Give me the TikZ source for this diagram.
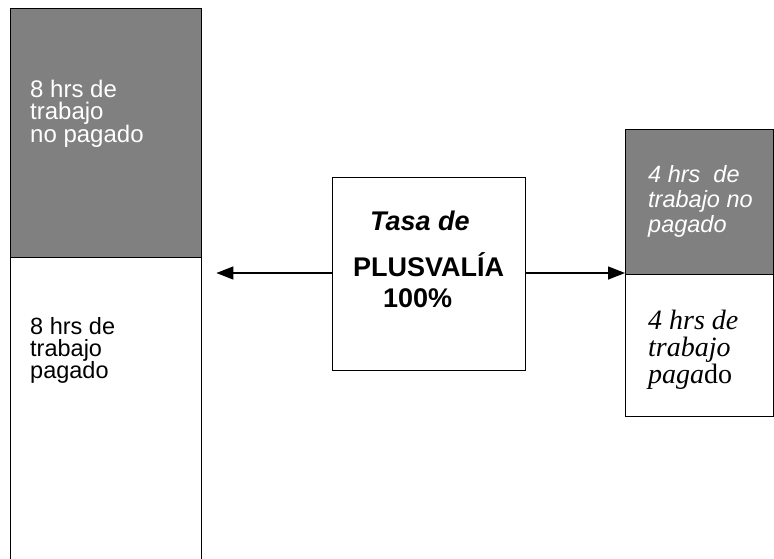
\documentclass[tikz,border=0pt]{standalone}
\usepackage{fontspec}
\setmainfont{Liberation Sans}
\newfontfamily\timesfont{Liberation Serif}
\usetikzlibrary{arrows.meta,calc}
\definecolor{boxgray}{RGB}{128,128,128}
\begin{document}
\begin{tikzpicture}[x=1pt,y=-1pt,
  box/.style={draw,line width=1.4pt,anchor=north west,inner sep=0pt},
  txt/.style={anchor=base west,align=left,inner sep=0pt},
  arr/.style={line width=1.4pt,-{Triangle[length=17pt,width=13pt]}}]

    \useasboundingbox (0,0) rectangle (774,558);

    \node[box,fill=boxgray,minimum width=191pt,minimum height=249pt] (ltop) at (10,8) {};
    \node[box,minimum width=191pt,minimum height=320pt] (lbot) at (10,257) {};
    \node[box,minimum width=193pt,minimum height=193pt] (tasa) at (332,177) {};
    \node[box,fill=boxgray,minimum width=148pt,minimum height=145pt] (rtop) at (625,129) {};
    \node[box,minimum width=148pt,minimum height=142pt] (rbot) at (625,274) {};

    % base anchor = last line
    \node[txt,text=white,font=\fontsize{24}{22.5}\selectfont] (ltxt1) at (30,142) {8 hrs de\\trabajo\\no pagado};
    \node[txt,font=\fontsize{23.5}{22}\selectfont] (ltxt2) at (30,378) {8 hrs de\\trabajo\\pagado};
    \node[txt,font=\fontsize{27}{27}\selectfont\bfseries\itshape] (t1) at (370,230) {Tasa de};
    \node[txt,font=\fontsize{27}{27}\selectfont\bfseries] (t2) at (353,276) {PLUSVALÍA};
    \node[txt,font=\fontsize{27}{27}\selectfont\bfseries] (t3) at (383,307) {100\%};
    \node[txt,text=white,font=\fontsize{23.5}{25}\selectfont\itshape] (rtxt1) at (648,232) {4 hrs\ \ de\\trabajo no\\pagado};
    \node[txt,font=\fontsize{28}{27}\selectfont\timesfont\itshape] (rtxt2) at (648,383) {4 hrs de\\trabajo\\paga\upshape do};

    \coordinate (ay) at (0,273);
    \draw[arr] (tasa.west |- ay) -- ($(lbot.east |- ay)+(14,0)$);
    \draw[arr] (tasa.east |- ay) -- (rbot.west |- ay);
\end{tikzpicture}
\end{document}
